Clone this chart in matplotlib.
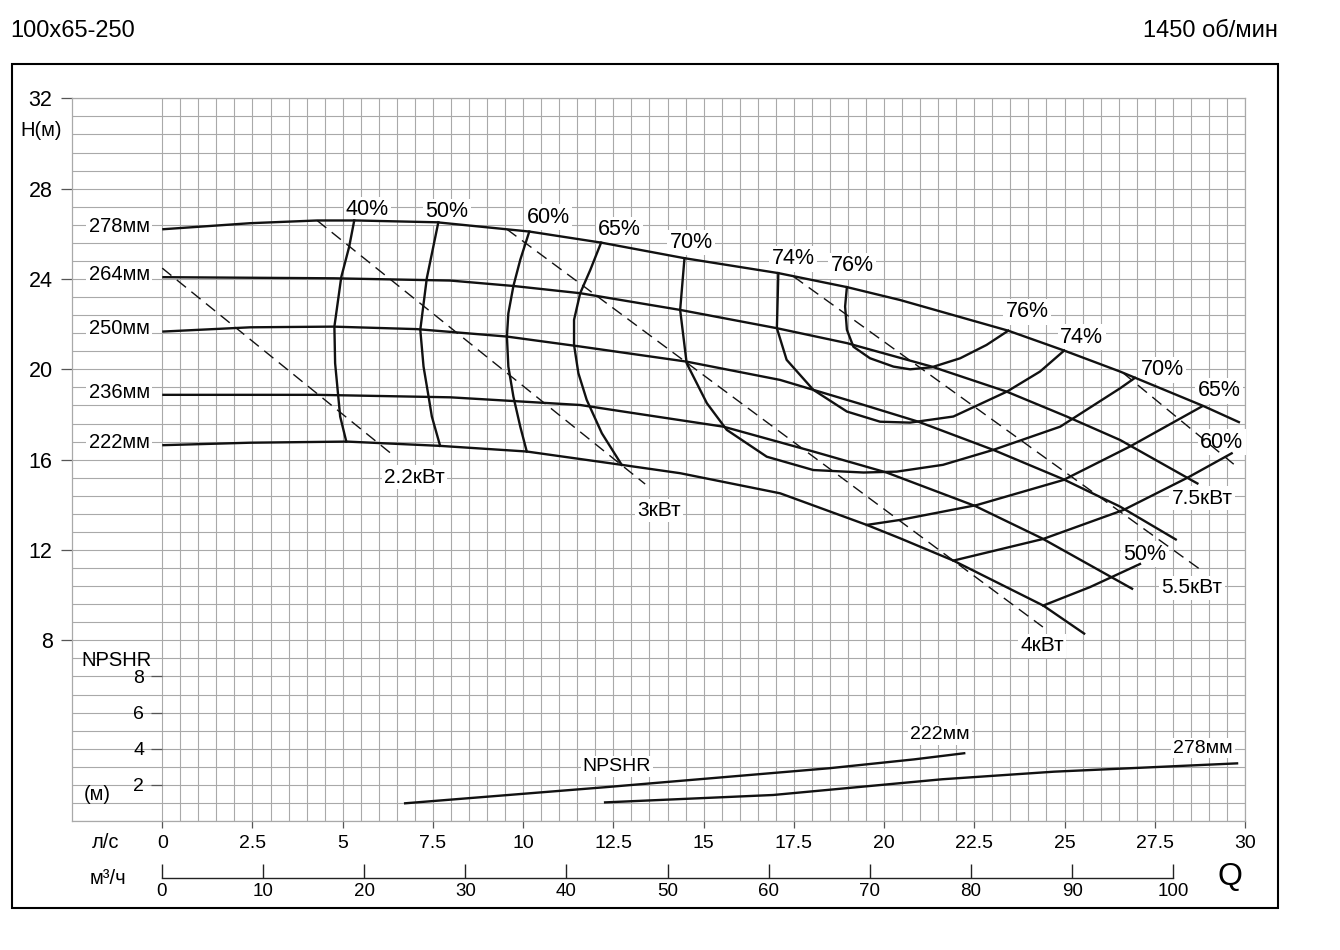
import numpy as np
import matplotlib
matplotlib.use('Agg')
import matplotlib.pyplot as plt
from matplotlib.patches import Rectangle

plt.rcParams['font.family'] = ['Liberation Sans', 'DejaVu Sans']

# ---------------- data (Q in l/s, H in m) ----------------
q_278 = [0, 2.44, 4.29, 5.39, 7.61, 10.17, 12.16, 14.47, 17.07, 18.97, 20.44, 23.44, 24.99, 26.54, 28.84, 29.86]
h_278 = [26.20, 26.47, 26.59, 26.59, 26.51, 26.10, 25.61, 24.92, 24.26, 23.64, 23.07, 21.71, 20.83, 19.90, 18.38, 17.64]

q_264 = [0, 4.75, 7.98, 9.73, 11.58, 14.35, 17.03, 18.97, 21.32, 23.40, 25.06, 26.54, 28.71]
h_264 = [24.08, 24.03, 23.93, 23.69, 23.37, 22.63, 21.82, 21.16, 20.12, 19.01, 17.91, 16.87, 14.92]

q_250 = [0, 2.44, 4.74, 7.05, 9.55, 11.58, 14.53, 17.12, 19.34, 20.95, 23.03, 24.97, 26.54, 28.11]
h_250 = [21.67, 21.86, 21.89, 21.78, 21.45, 21.01, 20.34, 19.53, 18.47, 17.68, 16.43, 15.13, 13.92, 12.44]

q_236 = [0, 4.29, 7.98, 11.58, 13.06, 15.55, 18.04, 20.07, 22.52, 24.37, 26.90]
h_236 = [18.87, 18.87, 18.76, 18.42, 18.06, 17.46, 16.36, 15.43, 13.95, 12.52, 10.26]

q_222 = [0, 2.44, 5.12, 7.70, 10.10, 12.73, 14.35, 17.12, 19.52, 20.44, 21.92, 24.41, 25.57]
h_222 = [16.64, 16.75, 16.80, 16.61, 16.36, 15.77, 15.40, 14.51, 13.11, 12.52, 11.53, 9.54, 8.27]

diameters = ['278мм', '264мм', '250мм', '236мм', '222мм']

# efficiency iso-lines
q_e40 = [5.32, 5.18, 4.96, 4.77, 4.79, 4.93, 5.10]
h_e40 = [26.59, 25.43, 24.08, 21.89, 20.27, 17.91, 16.80]
q_e50 = [7.65, 7.33, 7.15, 7.24, 7.38, 7.47, 7.70]
h_e50 = [26.51, 24.03, 21.75, 20.12, 18.79, 17.91, 16.61]
q_e60 = [10.17, 9.92, 9.73, 9.59, 9.55, 9.59, 9.73, 9.92, 10.10]
h_e60 = [26.10, 24.85, 23.69, 22.48, 21.45, 20.12, 18.79, 17.46, 16.36]
q_e65 = [12.16, 11.86, 11.58, 11.41, 11.41, 11.53, 11.76, 12.18, 12.73]
h_e65 = [25.61, 24.40, 23.37, 22.19, 21.08, 19.83, 18.65, 17.17, 15.77]
q_e70 = [14.47, 14.35, 14.53, 15.09, 15.64, 16.75, 18.04, 19.43, 20.35, 21.63, 23.02, 24.88, 26.54, 26.95]
h_e70 = [24.92, 22.63, 20.27, 18.50, 17.32, 16.13, 15.54, 15.43, 15.47, 15.77, 16.43, 17.46, 19.16, 19.62]
q_e74 = [17.07, 17.03, 17.30, 18.04, 18.97, 19.89, 20.72, 21.92, 23.40, 24.32, 24.99]
h_e74 = [24.26, 21.82, 20.42, 19.09, 18.13, 17.68, 17.64, 17.91, 19.01, 19.90, 20.83]
q_e76 = [18.97, 18.92, 18.97, 19.15, 19.61, 20.26, 20.72, 21.32, 22.11, 22.84, 23.44]
h_e76 = [23.64, 22.78, 21.75, 21.00, 20.49, 20.12, 20.00, 20.09, 20.49, 21.08, 21.71]
q_e65r = [19.52, 20.44, 22.57, 24.97, 26.81, 28.80]
h_e65r = [13.11, 13.33, 13.99, 15.10, 16.58, 18.35]
q_e60r = [21.92, 24.41, 26.63, 28.43, 29.63]
h_e60r = [11.53, 12.49, 13.77, 15.22, 16.28]
q_e50r = [24.41, 25.71, 27.09]
h_e50r = [9.54, 10.36, 11.38]

# power lines (dashed)
q_p22 = [0, 6.45];      h_p22 = [24.48, 16.13]
q_p3 = [4.29, 13.38];   h_p3 = [26.59, 14.92]
q_p4 = [9.55, 24.40];   h_p4 = [26.20, 8.59]
q_p55 = [17.49, 28.75]; h_p55 = [24.11, 11.15]
q_p75 = [26.63, 29.77]; h_p75 = [19.83, 15.69]

# NPSHR (m)
q_n222 = [6.73, 12.27, 18.48, 20.83, 22.22]
n_n222 = [0.98, 1.87, 2.92, 3.41, 3.75]
q_n278 = [12.27, 16.93, 21.61, 24.71, 29.78]
n_n278 = [1.03, 1.44, 2.31, 2.73, 3.19]

# axis ticks
q_ticks = [0, 2.5, 5, 7.5, 10, 12.5, 15, 17.5, 20, 22.5, 25, 27.5, 30]
q_tick_labels = ['0', '2.5', '5', '7.5', '10', '12.5', '15', '17.5', '20', '22.5', '25', '27.5', '30']
m3h_ticks = [0, 10, 20, 30, 40, 50, 60, 70, 80, 90, 100]
m3h_limits = (-8.9, 107.1)   # m3/h scale as printed (slightly stretched vs l/s)
h_ticks = [8, 12, 16, 20, 24, 28, 32]
npsh_ticks = [2, 4, 6, 8]

# label texts and positions
eff_labels = ['40%', '50%', '60%', '65%', '70%', '74%', '76%', '76%', '74%', '70%', '65%', '60%', '50%']
eff_label_q = [5.68, 7.89, 10.69, 12.66, 14.65, 17.48, 19.11, 23.96, 25.48, 27.70, 29.28, 29.36, 27.23]
eff_label_h = [27.07, 26.97, 26.74, 26.17, 25.60, 24.89, 24.58, 22.54, 21.43, 19.97, 19.04, 16.78, 11.82]
pow_labels = ['2.2кВт', '3кВт', '4кВт', '5.5кВт', '7.5кВт']
pow_label_q = [6.98, 13.77, 24.38, 28.53, 28.81]
pow_label_h = [15.23, 13.73, 7.75, 10.32, 14.30]

# ---------------- figure ----------------
W, HP = 1340, 950
fig = plt.figure(figsize=(W / 100, HP / 100), dpi=100)

def fx(x):
    return x / W

def fy(y):
    return 1 - y / HP

GRID_C = '#a9a9a9'
LINE_C = '#111111'

rect = [fx(72), fy(821), fx(1245) - fx(72), fy(98.3) - fy(821)]
ax = fig.add_axes(rect)
ax.set_xlim(-2.5, 30)
ax.set_ylim(0, 32)
for s in ax.spines.values():
    s.set_color(GRID_C)
    s.set_linewidth(0.9)

ax.vlines(np.arange(0, 30.01, 0.5), 0, 32, color=GRID_C, lw=0.8, zorder=1)
ax.hlines(np.arange(0, 32.01, 0.8), -2.5, 30, color=GRID_C, lw=0.8, zorder=1)

ax.set_xticks(q_ticks)
ax.set_xticklabels(q_tick_labels)
ax.tick_params(axis='x', direction='out', length=5, width=0.9, color='#555555', pad=5, labelsize=14)
ax.set_yticks(h_ticks)
ax.set_yticklabels([str(v) for v in h_ticks])
ax.tick_params(axis='y', direction='out', length=8, width=0.9, color='#555555', pad=6, labelsize=15.5)

# H-Q curves
curves = [(q_278, h_278), (q_264, h_264), (q_250, h_250), (q_236, h_236), (q_222, h_222)]
for (q, h), name in zip(curves, diameters):
    ax.plot(q, h, color=LINE_C, lw=1.7, zorder=4, solid_capstyle='butt', solid_joinstyle='round')
    ax.text(-1.19, h[0] + 0.12, name, ha='center', va='center', fontsize=14.5, zorder=3,
            bbox=dict(boxstyle='square,pad=0.12', fc='white', ec='none'))

eff = [(q_e40, h_e40), (q_e50, h_e50), (q_e60, h_e60), (q_e65, h_e65), (q_e70, h_e70),
       (q_e74, h_e74), (q_e76, h_e76), (q_e65r, h_e65r), (q_e60r, h_e60r), (q_e50r, h_e50r)]
for q, h in eff:
    ax.plot(q, h, color=LINE_C, lw=1.7, zorder=4, solid_joinstyle='round')

for q, h in [(q_p22, h_p22), (q_p3, h_p3), (q_p4, h_p4), (q_p55, h_p55), (q_p75, h_p75)]:
    ax.plot(q, h, color=LINE_C, lw=1.0, linestyle=(0, (8.5, 5)), zorder=5)

for t, q, h in zip(eff_labels, eff_label_q, eff_label_h):
    ax.text(q, h, t, ha='center', va='center', fontsize=15.5, zorder=3,
            bbox=dict(boxstyle='square,pad=0.1', fc='white', ec='none'))
for t, q, h in zip(pow_labels, pow_label_q, pow_label_h):
    ax.text(q, h, t, ha='center', va='center', fontsize=15, zorder=3,
            bbox=dict(boxstyle='square,pad=0.1', fc='white', ec='none'))

# NPSHR axis
ax3 = fig.add_axes(rect, frameon=False)
ax3.set_xlim(-2.5, 30)
ax3.set_ylim(0, 40)
ax3.patch.set_visible(False)
ax3.xaxis.set_visible(False)
ax3.spines['left'].set_position(('data', 0))
ax3.set_yticks(npsh_ticks)
ax3.set_yticklabels([str(v) for v in npsh_ticks])
ax3.tick_params(axis='y', direction='out', length=8, width=0.9, color='#555555', pad=5, labelsize=14)
ax3.plot(q_n222, n_n222, color=LINE_C, lw=1.7, zorder=4, solid_joinstyle='round')
ax3.plot(q_n278, n_n278, color=LINE_C, lw=1.7, zorder=4, solid_joinstyle='round')
ax3.text(12.6, 3.04, 'NPSHR', ha='center', va='center', fontsize=14, zorder=3,
         bbox=dict(boxstyle='square,pad=0.1', fc='white', ec='none'))
ax3.text(21.55, 4.76, '222мм', ha='center', va='center', fontsize=14, zorder=3,
         bbox=dict(boxstyle='square,pad=0.1', fc='white', ec='none'))
ax3.text(28.84, 4.04, '278мм', ha='center', va='center', fontsize=14, zorder=3,
         bbox=dict(boxstyle='square,pad=0.1', fc='white', ec='none'))

# m3/h axis
ax2 = fig.add_axes([rect[0], fy(878), rect[2], 0.0005])
ax2.set_xlim(*m3h_limits)
ax2.patch.set_visible(False)
for k in ['top', 'left', 'right']:
    ax2.spines[k].set_visible(False)
ax2.spines['bottom'].set_bounds(0, 100)
ax2.spines['bottom'].set_color('#222222')
ax2.spines['bottom'].set_linewidth(1.0)
ax2.set_yticks([])
ax2.set_xticks(m3h_ticks)
ax2.set_xticklabels([str(v) for v in m3h_ticks])
ax2.tick_params(axis='x', direction='in', length=10, width=1.0, color='#222222', pad=3.5, labelsize=13.5)

# outer frame and free texts
fig.add_artist(Rectangle((fx(12), fy(908)), fx(1278) - fx(12), fy(64) - fy(908),
                         transform=fig.transFigure, fill=False, ec='black', lw=1.5))
fig.text(fx(10), fy(31), '100x65-250', ha='left', va='center', fontsize=17)
fig.text(fx(1278), fy(31), '1450 об/мин', ha='right', va='center', fontsize=17)
fig.text(fx(41), fy(131), 'H(м)', ha='center', va='center', fontsize=14.5)
fig.text(fx(116), fy(660), 'NPSHR', ha='center', va='center', fontsize=14.5)
fig.text(fx(97), fy(794), '(м)', ha='center', va='center', fontsize=14.5)
fig.text(fx(106), fy(843), 'л/с', ha='center', va='center', fontsize=14.5)
fig.text(fx(108), fy(879), 'м³/ч', ha='center', va='center', fontsize=14.5)
fig.text(fx(1230), fy(877), 'Q', ha='center', va='center', fontsize=23)

fig.savefig('out.png', dpi=100)
